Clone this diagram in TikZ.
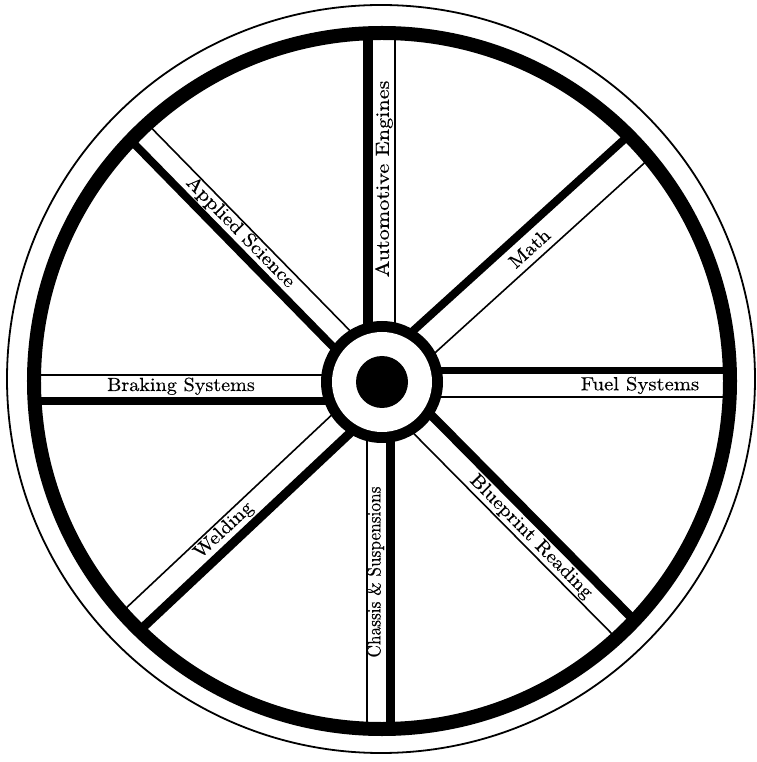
\documentclass[tikz,border=0pt]{standalone}
\usepackage{fontspec}
\usepackage{graphicx}
\newfontfamily\lblfont{lmroman10-regular.otf}[FakeBold=0.4]
\tikzset{
  thinln/.style={line width=1.6pt},
  lbl/.style={inner sep=0pt, font=\lblfont\fontsize{19}{22}\selectfont},
}
% #1 angle, #2 thin offset, #3 thick offset, #4 thick width,
% #5 label distance, #6 label offset, #7 label rotation, #8 text, #9 name
\newcommand\wheelspoke[9]{%
  \begin{scope}[rotate=#1]
    \draw[thinln] (40,-#2) -- (350,-#2);
    \draw[line width=#4pt] (40,#3) -- (350,#3);
    \node[lbl, rotate=#7] (#9) at (#5,#6) {#8};
  \end{scope}}
\begin{document}
\begin{tikzpicture}[x=1pt,y=1pt]
\useasboundingbox (-382,-380) rectangle (374,382);
\wheelspoke{90}{13}{14}{10}{203}{-2}{90}{\scalebox{1.17}[1]{Automotive Engines}}{auto}
\wheelspoke{42.2}{14}{17}{8}{199}{0}{42.2}{\scalebox{1.08}[1]{Math}}{math}
\wheelspoke{0}{15}{11.5}{7}{258}{-3.5}{0}{\scalebox{1.09}[1]{Fuel Systems}}{fuel}
\wheelspoke{-45.3}{13.7}{11.7}{9}{215}{-3.2}{-45.3}{\scalebox{1.09}[1]{Blueprint Reading}}{blue}
\wheelspoke{-90}{15}{8}{9}{190}{-6.5}{90}{\scalebox{0.91}[1]{Chassis \& Suspensions}}{chassis}
\wheelspoke{-136.8}{10.4}{15.3}{9}{217}{0.2}{43.2}{\scalebox{1.09}[1]{Welding}}{weld}
\wheelspoke{180}{7}{19.5}{8}{201}{4.25}{0}{\scalebox{1.06}[1]{Braking Systems}}{brake}
\wheelspoke{134.4}{13}{10.4}{8}{206}{-3.3}{-45.6}{\scalebox{1.12}[1]{Applied Science}}{applied}
% rim
\draw[line width=14pt] (0,1) circle (348pt);
\draw[line width=1.8pt] (-1,3) circle (374pt);
% hub
\fill[black] (0,0) circle (61pt);
\fill[white] (0,0) circle (50pt);
\fill[black] (0,0) circle (26pt);
\end{tikzpicture}
\end{document}
